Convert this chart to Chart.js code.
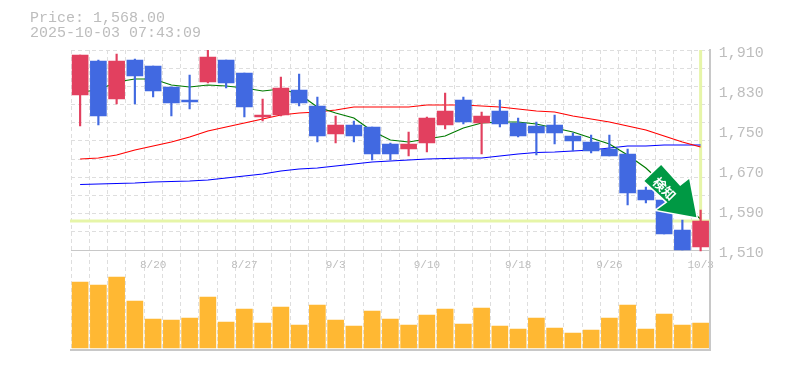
<!DOCTYPE html>
<html>
<head>
<meta charset="utf-8">
<script src="https://cdn.jsdelivr.net/npm/chart.js@4"></script>
<style>html,body{margin:0;padding:0;background:#fff}canvas{display:block}</style>
</head>
<body>
<canvas id="c" width="785" height="370"></canvas>
<script>
const dateLabels = ['8/14','8/15','8/18','8/19','8/20','8/21','8/22','8/25','8/26','8/27','8/28','8/29','9/1','9/2','9/3','9/4','9/5','9/8','9/9','9/10','9/11','9/12','9/16','9/17','9/18','9/19','9/22','9/24','9/25','9/26','9/29','9/30','10/1','10/2','10/3'];
const opens  = [1820,1888,1812,1890,1878,1836,1810,1846,1890,1864,1776,1780,1830,1798,1742,1760,1756,1722,1712,1724,1760,1810,1764,1788,1764,1758,1760,1738,1726,1712,1702,1630,1610,1550,1516];
const closes = [1900,1778,1888,1858,1828,1804,1806,1896,1844,1796,1780,1834,1804,1738,1760,1738,1702,1702,1722,1774,1788,1766,1778,1762,1738,1744,1744,1728,1708,1698,1624,1610,1542,1510,1568];
const highs  = [1900,1890,1902,1892,1878,1836,1860,1910,1890,1864,1812,1856,1862,1816,1778,1768,1756,1724,1746,1776,1824,1816,1786,1810,1774,1766,1780,1744,1740,1740,1712,1636,1610,1570,1590];
const lows   = [1758,1760,1802,1802,1816,1778,1792,1844,1834,1776,1768,1778,1798,1726,1724,1726,1690,1690,1698,1706,1752,1762,1702,1756,1736,1700,1722,1708,1704,1698,1600,1604,1542,1510,1508];
const maShort = [1826,1830,1846,1852,1852,1840,1836,1840,1838,1834,1828,1832,1822,1796,1784,1774,1748,1730,1726,1732,1738,1754,1764,1766,1766,1762,1754,1746,1734,1722,1700,1674,1640,1602,1572];
const maMid   = [1692,1694,1700,1710,1718,1726,1736,1748,1756,1764,1772,1780,1784,1786,1790,1796,1796,1796,1796,1800,1800,1800,1798,1796,1792,1788,1786,1778,1772,1766,1758,1750,1738,1726,1716];
const maLong  = [1641,1642,1643,1644,1646,1647,1648,1650,1654,1658,1662,1668,1672,1674,1678,1682,1686,1688,1690,1692,1693,1694,1694,1698,1702,1705,1706,1708,1710,1714,1718,1718,1720,1720,1720];
const volumes = [66,63,71,47,29,28,30,51,26,39,25,41,23,43,28,22,37,29,23,33,39,24,40,22,19,30,20,15,18,30,43,19,34,23,25];
const priceTicks = [1510,1590,1670,1750,1830,1910];
const gridSteps = [0,1,2,3,4,5,6,7,8,9,10,11];
const lastPrice = 1568;
const titleLines = ['Price: 1,568.00','2025-10-03 07:43:09'];
const signalText = '検知';

const UP = '#e2405f', DOWN = '#4169e1', GRID = '#dedede', AXIS = '#c8c8c8', TEXT = '#bdbdbd';
const MONO = '"Liberation Mono", monospace';
const candleColors = opens.map((o,i) => closes[i] >= o ? UP : DOWN);
const bodies = opens.map((o,i) => [o, closes[i]]);
const wicks = lows.map((l,i) => [l, highs[i]]);

const overlay = {
  id: 'overlay',
  beforeDatasetsDraw(chart) {
    const {ctx, chartArea: a, scales: {x, y}} = chart;
    const px = x.getPixelForValue(dateLabels.length - 1), py = y.getPixelForValue(lastPrice);
    ctx.save();
    ctx.fillStyle = '#e6f5a8';
    ctx.fillRect(px - 1.5, a.top, 3, py - a.top);
    ctx.fillRect(a.left - 1, py - 1.5, a.right - a.left + 1, 3);
    ctx.restore();
  },
  afterDraw(chart) {
    const {ctx, scales: {x, y}} = chart;
    const tx = x.getPixelForValue(dateLabels.length - 1) - 4.2, ty = y.getPixelForValue(lastPrice) - 3.7;
    const pts = [[0,0],[-39.6,-7.3],[-29,-15],[-52,-36.3],[-35.3,-52.3],[-16.3,-31.3],[-7.3,-38.3]];
    ctx.save();
    ctx.beginPath();
    pts.forEach((p,i) => i ? ctx.lineTo(tx+p[0], ty+p[1]) : ctx.moveTo(tx+p[0], ty+p[1]));
    ctx.closePath();
    ctx.lineJoin = 'miter';
    ctx.lineWidth = 3;
    ctx.strokeStyle = '#ffffff';
    ctx.stroke();
    ctx.fillStyle = '#009944';
    ctx.fill();
    ctx.translate(tx - 32, ty - 28.5);
    ctx.rotate(Math.PI / 4);
    ctx.fillStyle = '#ffffff';
    ctx.font = 'bold 13px "Noto Sans CJK JP"';
    ctx.textAlign = 'center';
    ctx.textBaseline = 'middle';
    ctx.fillText(signalText, 0, 0);
    ctx.restore();
    ctx.save();
    ctx.fillStyle = TEXT;
    ctx.font = '15px ' + MONO;
    ctx.textBaseline = 'alphabetic';
    ctx.fillText(titleLines[0], 30, 22);
    ctx.fillText(titleLines[1], 30, 37);
    ctx.restore();
  }
};

new Chart(document.getElementById('c'), {
  data: {
    labels: dateLabels,
    datasets: [
      {type:'bar', label:'Open/Close', data:bodies, backgroundColor:candleColors, barThickness:16, grouped:false, order:1, xAxisID:'x', yAxisID:'y'},
      {type:'bar', label:'High/Low', data:wicks, backgroundColor:candleColors, barThickness:1.5, grouped:false, order:2, xAxisID:'x', yAxisID:'y'},
      {type:'line', label:'MA short', data:maShort, borderColor:'#007a00', borderWidth:1.2, pointRadius:0, tension:0, order:3, xAxisID:'x', yAxisID:'y'},
      {type:'line', label:'MA mid', data:maMid, borderColor:'#ff0000', borderWidth:1.2, pointRadius:0, tension:0, order:4, xAxisID:'x', yAxisID:'y'},
      {type:'line', label:'MA long', data:maLong, borderColor:'#0000ff', borderWidth:1.2, pointRadius:0, tension:0, order:5, xAxisID:'x', yAxisID:'y'},
      {type:'bar', label:'Volume', data:volumes, backgroundColor:'#ffb833', barThickness:16, grouped:false, order:6, xAxisID:'x', yAxisID:'yVol'}
    ]
  },
  options: {
    responsive:false,
    animation:false,
    layout:{padding:{left:71, right:0, top:50, bottom:20}},
    plugins:{legend:{display:false}, tooltip:{enabled:false}, title:{display:false}},
    scales:{
      x:{
        type:'category', position:'bottom', offset:true,
        grid:{display:true, offset:true, color:GRID, lineWidth:1, drawTicks:false},
        border:{display:true, color:AXIS, width:2, dash:[4,3]},
        ticks:{display:false}
      },
      xDates:{
        type:'category', labels:dateLabels, position:{y:1510}, offset:true,
        grid:{display:false, drawTicks:false},
        border:{display:true, color:AXIS, width:1},
        ticks:{
          autoSkip:false, maxRotation:0, minRotation:0, padding:8, color:TEXT,
          font:{family:MONO, size:11},
          callback(v,i){ return i % 5 === 4 ? dateLabels[i] : ''; }
        }
      },
      y:{
        type:'linear', position:'right', min:1310, max:1910,
        afterBuildTicks(s){ s.ticks = priceTicks.map(v => ({value:v})); },
        afterFit(s){ s.width = 75.25; },
        grid:{display:false, drawTicks:false},
        border:{display:true, color:AXIS, width:2},
        ticks:{padding:9, labelOffset:3, color:TEXT, font:{family:MONO, size:15},
          callback(v){ return v.toLocaleString('en-US'); }}
      },
      yGrid:{
        type:'linear', position:'left', reverse:true, min:0, max:16.5,
        afterBuildTicks(s){ s.ticks = gridSteps.map(v => ({value:v})); },
        afterFit(s){ s.width = 0; },
        grid:{display:true, color:GRID, lineWidth:1, drawTicks:false},
        border:{display:false, dash:[4,3]},
        ticks:{display:false}
      },
      yVol:{type:'linear', display:false, min:-2, max:298}
    }
  },
  plugins:[overlay]
});
</script>
</body>
</html>
